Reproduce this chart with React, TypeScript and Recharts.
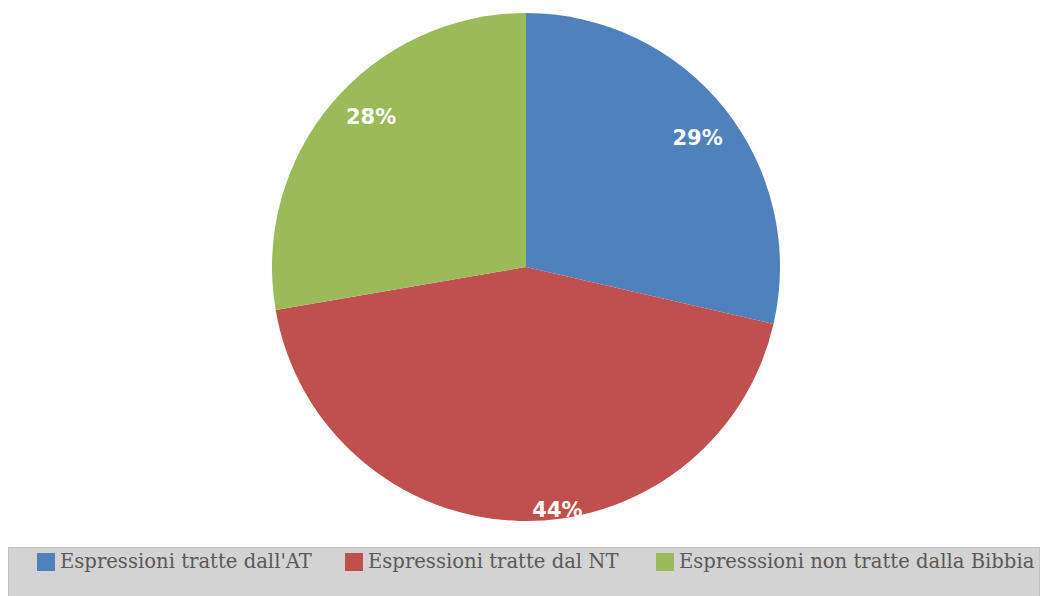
import { PieChart, Pie, Cell } from 'recharts';

const CATEGORIES = ["Espressioni tratte dall'AT", 'Espressioni tratte dal NT', 'Espresssioni non tratte dalla Bibbia'];
const VALUES = [28.6, 43.7, 27.7];
const LABELS = ['29%', '44%', '28%'];
const COLORS = ['#4F81BD', '#C0504D', '#9BBB59'];

// label placement tweaks (fraction of radius, angle shift in degrees)
const LABEL_RADIUS = [0.846, 0.965, 0.85];
const LABEL_SHIFT = [-1.5, 9, -4];

const data = CATEGORIES.map((name, i) => ({ name, value: VALUES[i], label: LABELS[i] }));

const RAD = Math.PI / 180;

const renderLabel = (props: any) => {
  const { cx, cy, midAngle, outerRadius, index } = props;
  const a = (midAngle + LABEL_SHIFT[index]) * RAD;
  const r = outerRadius * LABEL_RADIUS[index];
  const x = cx + r * Math.cos(a);
  const y = cy - r * Math.sin(a);
  return (
    <text x={x} y={y} fill="#fff" textAnchor="middle" dominantBaseline="central"
      style={{ fontFamily: 'DejaVu Sans', fontWeight: 'bold', fontSize: 21 }}>
      {LABELS[index]}
    </text>
  );
};

function LegendBox() {
  return (
    <div style={{
      position: 'absolute', left: 8, top: 547, width: 1032, height: 49, boxSizing: 'border-box',
      background: '#d3d3d3', border: '1px solid #c2c2c2', borderBottom: 'none',
    }}>
      {CATEGORIES.map((c, i) => (
        <div key={c} style={{ position: 'absolute', top: 2, left: [28, 336, 647][i], display: 'flex', alignItems: 'center' }}>
          <span style={{ display: 'inline-block', width: 18, height: 18, background: COLORS[i], marginRight: 5 }} />
          <span style={{ fontFamily: 'DejaVu Serif', fontSize: 19.6, color: '#595959', whiteSpace: 'nowrap' }}>{c}</span>
        </div>
      ))}
    </div>
  );
}

export default function App() {
  return (
    <div style={{ position: 'absolute', left: 0, top: 0, width: 1047, height: 596, background: '#fff', overflow: 'hidden' }}>
      <PieChart width={1047} height={596} margin={{ top: 0, right: 0, bottom: 0, left: 0 }}>
        <Pie data={data} dataKey="value" nameKey="name" cx={526} cy={267} outerRadius={254}
          startAngle={90} endAngle={-270} stroke="none" label={renderLabel} labelLine={false}
          isAnimationActive={false}>
          {data.map((d, i) => <Cell key={d.name} fill={COLORS[i]} />)}
        </Pie>
      </PieChart>
      <LegendBox />
    </div>
  );
}
